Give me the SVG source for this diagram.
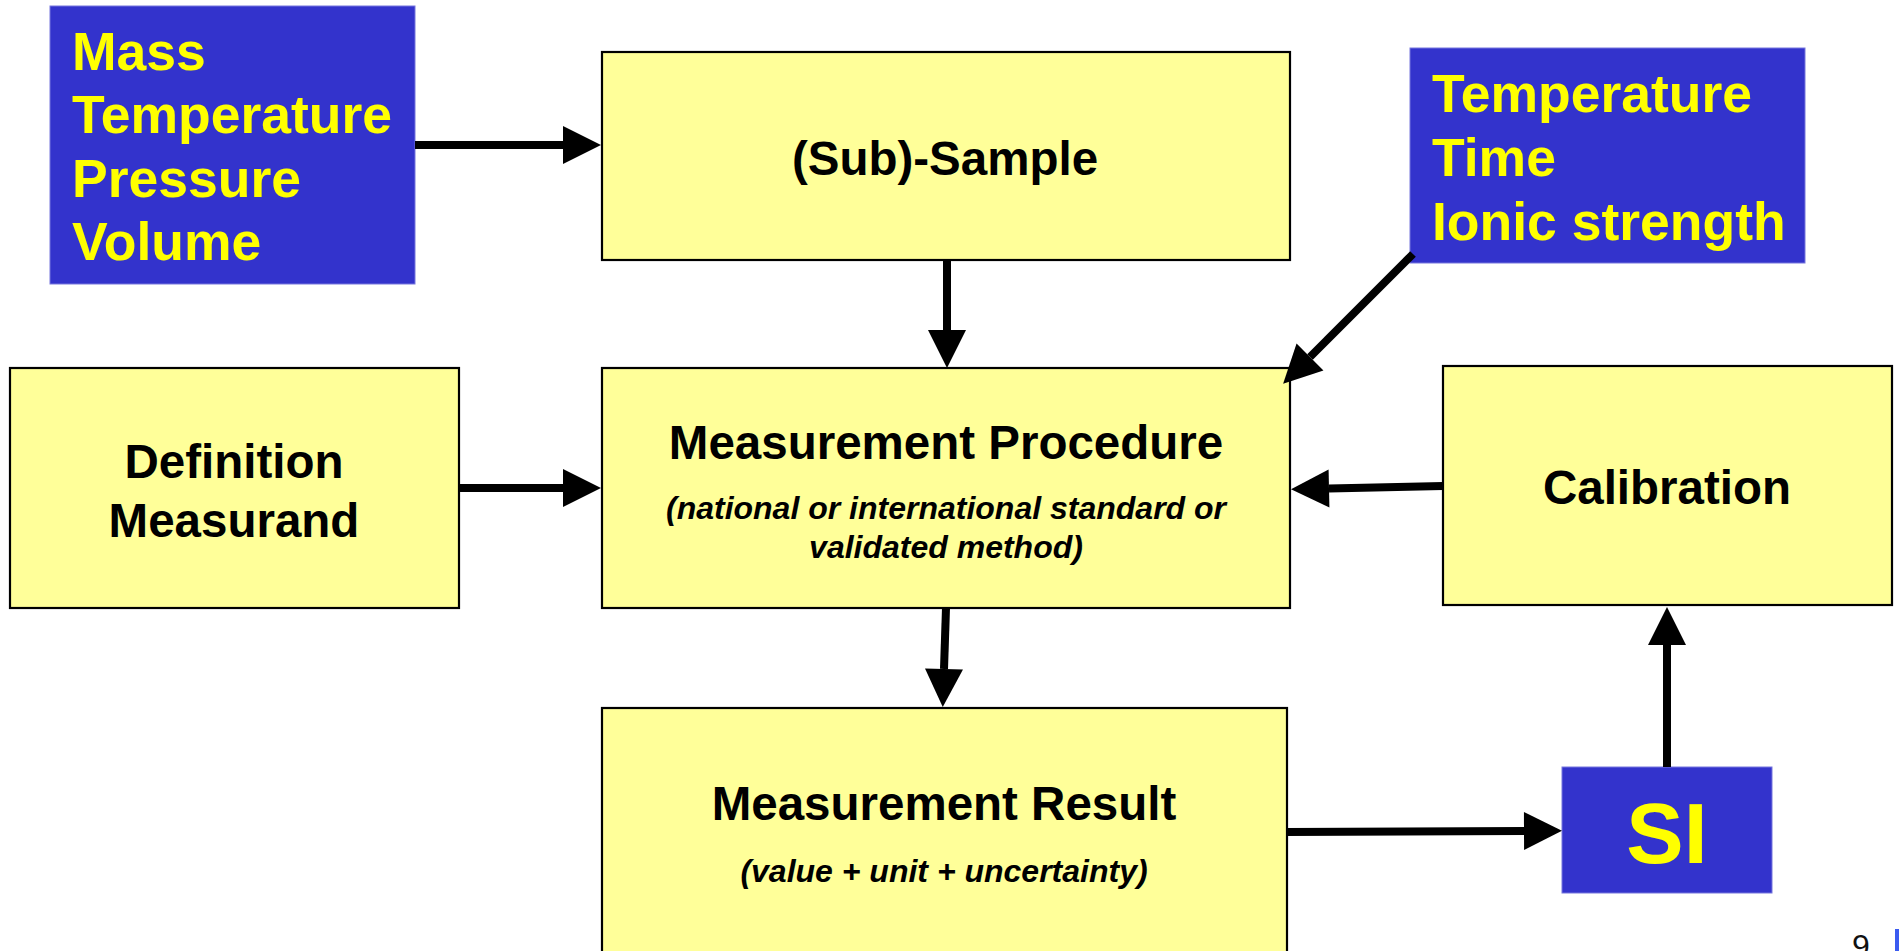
<svg xmlns="http://www.w3.org/2000/svg" width="1899" height="951" viewBox="0 0 1899 951">
<style>
.blue{fill:#3333CC;stroke:#7777DD;stroke-width:1}
.yel{fill:#FFFF99;stroke:#000;stroke-width:2.2}
.yt{font-family:"Liberation Sans",Arial,sans-serif;font-weight:bold;font-size:53.5px;fill:#FFFF00}
.bt{font-family:"Liberation Sans",Arial,sans-serif;font-weight:bold;font-size:47.5px;fill:#000;text-anchor:middle}
.it{font-family:"Liberation Sans",Arial,sans-serif;font-weight:bold;font-style:italic;font-size:32px;fill:#000;text-anchor:middle}
.con line{stroke:#000;stroke-width:8;marker-end:url(#ah)}
</style>
<defs>
<marker id="ah" markerUnits="userSpaceOnUse" markerWidth="38" markerHeight="38" viewBox="0 0 38 38" refX="0" refY="19" orient="auto" overflow="visible">
<path d="M0,0 L38,19 L0,38 Z" fill="#000"/>
</marker>
</defs>
<rect width="1899" height="951" fill="#fff"/>
<g id="mass">
<rect class="blue" x="50" y="6" width="365" height="278"/>
<text class="yt" x="72" y="70">Mass</text>
<text class="yt" x="72" y="133">Temperature</text>
<text class="yt" x="72" y="197">Pressure</text>
<text class="yt" x="72" y="260">Volume</text>
</g>
<g id="subsample">
<rect class="yel" x="602" y="52" width="688" height="208"/>
<text class="bt" x="945" y="175">(Sub)-Sample</text>
</g>
<g id="conditions">
<rect class="blue" x="1410" y="48" width="395" height="215"/>
<text class="yt" x="1432" y="112">Temperature</text>
<text class="yt" x="1432" y="176">Time</text>
<text class="yt" x="1432" y="240">Ionic strength</text>
</g>
<g id="definition">
<rect class="yel" x="10" y="368" width="449" height="240"/>
<text class="bt" x="234" y="478">Definition</text>
<text class="bt" x="234" y="537">Measurand</text>
</g>
<g id="procedure">
<rect class="yel" x="602" y="368" width="688" height="240"/>
<text class="bt" x="946" y="459">Measurement Procedure</text>
<text class="it" x="946" y="519">(national or international standard or</text>
<text class="it" x="946" y="558">validated method)</text>
</g>
<g id="calibration">
<rect class="yel" x="1443" y="366" width="449" height="239"/>
<text class="bt" x="1667" y="504">Calibration</text>
</g>
<g id="result">
<rect class="yel" x="602" y="708" width="685" height="260"/>
<text class="bt" x="944" y="820">Measurement Result</text>
<text class="it" x="944" y="882">(value + unit + uncertainty)</text>
</g>
<g id="si">
<rect class="blue" x="1562" y="767" width="210" height="126"/>
<text x="1667" y="863" font-family="Liberation Sans,Arial,sans-serif" font-weight="bold" font-size="86" fill="#FFFF00" text-anchor="middle">SI</text>
</g>
<g id="connectors" class="con">
<line x1="415" y1="145" x2="563" y2="145"/>
<line x1="947" y1="260" x2="947" y2="330"/>
<line x1="1413" y1="254" x2="1310" y2="357"/>
<line x1="459" y1="488" x2="563" y2="488"/>
<line x1="1443" y1="486" x2="1329" y2="488.5"/>
<line x1="946" y1="608" x2="944" y2="669"/>
<line x1="1287" y1="832" x2="1524" y2="831"/>
<line x1="1667" y1="767" x2="1667" y2="645"/>
</g>
<g id="page">
<text x="1852" y="957" font-family="Liberation Sans,Arial,sans-serif" font-size="32" fill="#111">9</text>
<rect x="1895" y="929" width="4" height="22" fill="#3a5bf0"/>
</g>
</svg>
